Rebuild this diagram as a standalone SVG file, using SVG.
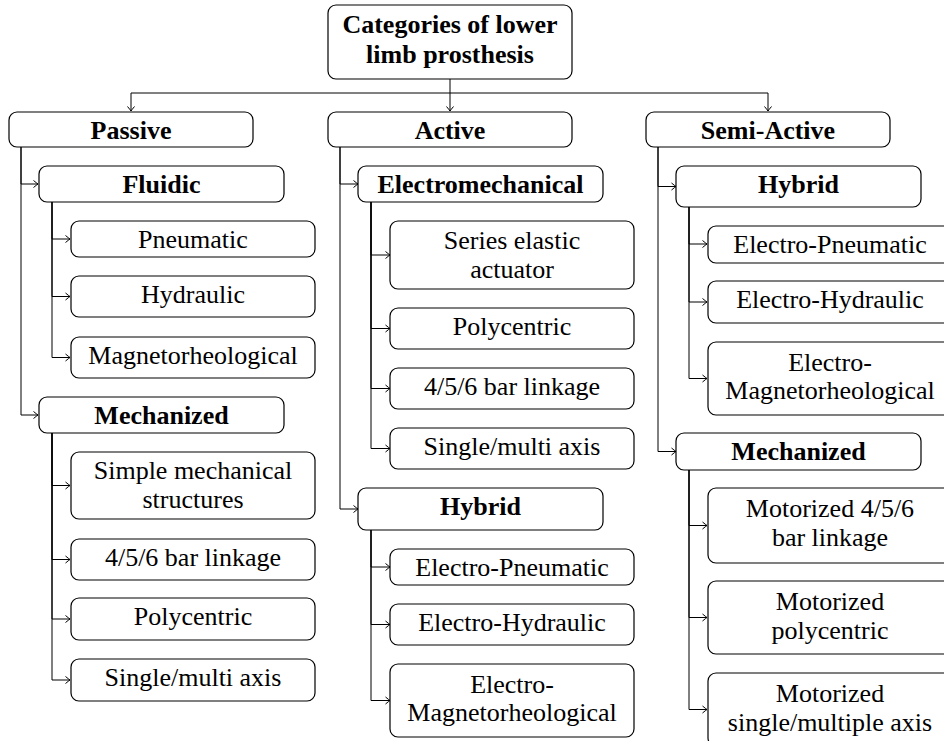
<svg xmlns="http://www.w3.org/2000/svg" width="944" height="741" viewBox="0 0 944 741">
<style>
.b{fill:#fff;stroke:#000;stroke-width:1.2}
text{font-family:Liberation Serif, Tinos, Times New Roman, Times, DejaVu Serif, serif}
.t{font-size:26px;fill:#000;text-anchor:middle}
.bd{font-weight:bold}
.c{fill:none;stroke:#000;stroke-width:1}
</style>
<defs>
<marker id="ar" markerUnits="userSpaceOnUse" markerWidth="10" markerHeight="10" refX="0" refY="0" viewBox="-6 -5 7 10" orient="auto" overflow="visible">
<path d="M-4.5,-3.5 Q-1.2,-0.8 0,0 Q-1.2,0.8 -4.5,3.5" fill="none" stroke="#000" stroke-width="1"/>
</marker>
</defs>
<rect width="944" height="741" fill="#fff"/>
<g id="connectors" class="c" marker-end="url(#ar)">
<path d="M450,79 V111"/>
<path d="M450,93 H131 V111"/>
<path d="M450,93 H768 V111"/>
<path d="M21,147 V184 H38"/>
<path d="M21,147 V415 H38"/>
<path d="M52,202 V239 H70"/>
<path d="M52,202 V296.5 H70"/>
<path d="M52,202 V357.5 H70"/>
<path d="M52,433 V485.5 H70"/>
<path d="M52,433 V559.5 H70"/>
<path d="M52,433 V619 H70"/>
<path d="M52,433 V680 H70"/>
<path d="M340,147 V184 H358"/>
<path d="M340,147 V509 H358"/>
<path d="M371,202 V255 H390"/>
<path d="M371,202 V328.5 H390"/>
<path d="M371,202 V388.5 H390"/>
<path d="M371,202 V448.5 H390"/>
<path d="M371,530 V567 H390"/>
<path d="M371,530 V624.5 H390"/>
<path d="M371,530 V700.5 H390"/>
<path d="M658,147 V186.5 H676"/>
<path d="M658,147 V451.5 H676"/>
<path d="M689,207 V244 H707"/>
<path d="M689,207 V302 H707"/>
<path d="M689,207 V378.5 H707"/>
<path d="M689,470 V525.5 H707"/>
<path d="M689,470 V617.5 H707"/>
<path d="M689,470 V709.5 H707"/>
</g>
<g id="root"><rect class="b" x="328" y="5" width="244" height="74" rx="8"/><text class="t bd" x="450" y="33">Categories of lower</text><text class="t bd" x="450" y="63">limb prosthesis</text></g>
<g id="passive"><rect class="b" x="9" y="112" width="244" height="35" rx="8"/><text class="t bd" x="131" y="139">Passive</text></g>
<g id="active"><rect class="b" x="328" y="112" width="244" height="35" rx="8"/><text class="t bd" x="450" y="139">Active</text></g>
<g id="semiactive"><rect class="b" x="646" y="112" width="244" height="35" rx="8"/><text class="t bd" x="768" y="139">Semi-Active</text></g>

<g id="p-fluidic"><rect class="b" x="39" y="166" width="245" height="36" rx="8"/><text class="t bd" x="161.5" y="193">Fluidic</text></g>
<g id="p-pneumatic"><rect class="b" x="71" y="221" width="244" height="36" rx="8"/><text class="t" x="193" y="248">Pneumatic</text></g>
<g id="p-hydraulic"><rect class="b" x="71" y="276" width="244" height="41" rx="8"/><text class="t" x="193" y="303">Hydraulic</text></g>
<g id="p-magneto"><rect class="b" x="71" y="337" width="244" height="41" rx="8"/><text class="t" x="193" y="364">Magnetorheological</text></g>
<g id="p-mechanized"><rect class="b" x="39" y="397" width="245" height="36" rx="8"/><text class="t bd" x="161.5" y="424">Mechanized</text></g>
<g id="p-simple"><rect class="b" x="71" y="452" width="244" height="67" rx="8"/><text class="t" x="193" y="479">Simple mechanical</text><text class="t" x="193" y="508">structures</text></g>
<g id="p-bar"><rect class="b" x="71" y="539" width="244" height="41" rx="8"/><text class="t" x="193" y="566">4/5/6 bar linkage</text></g>
<g id="p-poly"><rect class="b" x="71" y="598" width="244" height="42" rx="8"/><text class="t" x="193" y="625">Polycentric</text></g>
<g id="p-axis"><rect class="b" x="71" y="659" width="244" height="42" rx="8"/><text class="t" x="193" y="686">Single/multi axis</text></g>

<g id="a-electromech"><rect class="b" x="358" y="166" width="245" height="36" rx="8"/><text class="t bd" x="480.5" y="193">Electromechanical</text></g>
<g id="a-series"><rect class="b" x="390" y="221" width="244" height="68" rx="8"/><text class="t" x="512" y="249">Series elastic</text><text class="t" x="512" y="278">actuator</text></g>
<g id="a-poly"><rect class="b" x="390" y="308" width="244" height="41" rx="8"/><text class="t" x="512" y="335">Polycentric</text></g>
<g id="a-bar"><rect class="b" x="390" y="368" width="244" height="41" rx="8"/><text class="t" x="512" y="395">4/5/6 bar linkage</text></g>
<g id="a-axis"><rect class="b" x="390" y="428" width="244" height="41" rx="8"/><text class="t" x="512" y="455">Single/multi axis</text></g>
<g id="a-hybrid"><rect class="b" x="358" y="488" width="245" height="42" rx="8"/><text class="t bd" x="480.5" y="515">Hybrid</text></g>
<g id="a-epneu"><rect class="b" x="390" y="549" width="244" height="36" rx="8"/><text class="t" x="512" y="576">Electro-Pneumatic</text></g>
<g id="a-ehyd"><rect class="b" x="390" y="604" width="244" height="41" rx="8"/><text class="t" x="512" y="631">Electro-Hydraulic</text></g>
<g id="a-emag"><rect class="b" x="390" y="664" width="244" height="73" rx="8"/><text class="t" x="512" y="693">Electro-</text><text class="t" x="512" y="721">Magnetorheological</text></g>

<g id="s-hybrid"><rect class="b" x="676" y="166" width="245" height="41" rx="8"/><text class="t bd" x="798.5" y="193">Hybrid</text></g>
<g id="s-epneu"><rect class="b" x="708" y="226" width="244" height="37" rx="8"/><text class="t" x="830" y="253">Electro-Pneumatic</text></g>
<g id="s-ehyd"><rect class="b" x="708" y="281" width="244" height="42" rx="8"/><text class="t" x="830" y="308">Electro-Hydraulic</text></g>
<g id="s-emag"><rect class="b" x="708" y="342" width="244" height="73" rx="8"/><text class="t" x="830" y="371">Electro-</text><text class="t" x="830" y="399">Magnetorheological</text></g>
<g id="s-mechanized"><rect class="b" x="676" y="433" width="245" height="37" rx="8"/><text class="t bd" x="798.5" y="460">Mechanized</text></g>
<g id="s-bar"><rect class="b" x="708" y="488" width="244" height="75" rx="8"/><text class="t" x="830" y="517">Motorized 4/5/6</text><text class="t" x="830" y="546">bar linkage</text></g>
<g id="s-poly"><rect class="b" x="708" y="581" width="244" height="73" rx="8"/><text class="t" x="830" y="610">Motorized</text><text class="t" x="830" y="639">polycentric</text></g>
<g id="s-axis"><rect class="b" x="708" y="673" width="244" height="73" rx="8"/><text class="t" x="830" y="702">Motorized</text><text class="t" x="830" y="731">single/multiple axis</text></g>
</svg>
